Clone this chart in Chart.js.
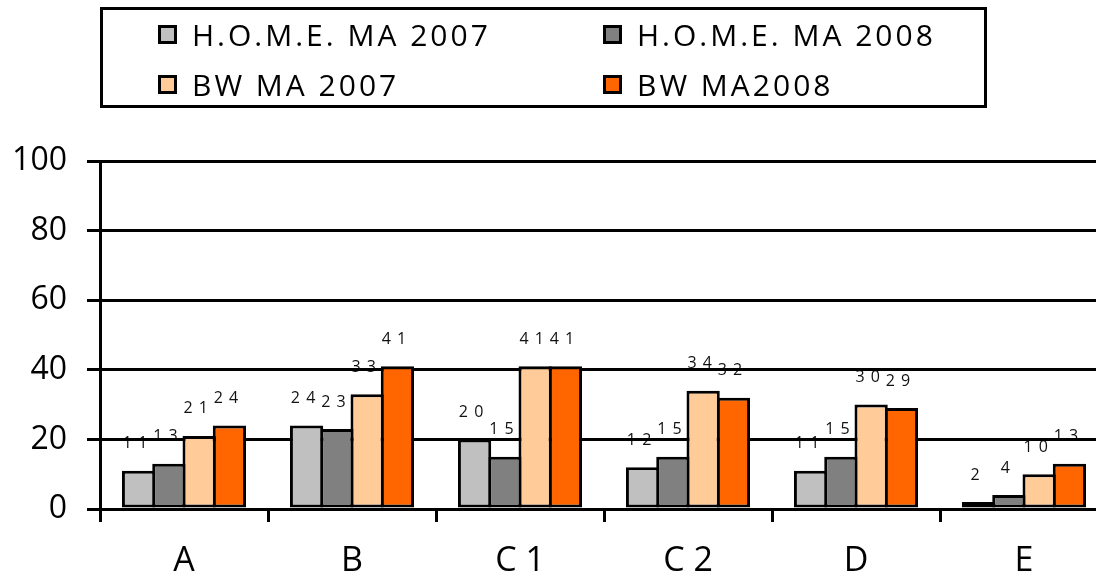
<!DOCTYPE html>
<html>
<head>
<meta charset="utf-8">
<script src="https://cdn.jsdelivr.net/npm/chart.js@4/dist/chart.umd.min.js"></script>
<style>
  html, body { margin: 0; padding: 0; background: #fff; overflow: hidden; }
  body { width: 1096px; height: 578px; position: relative; }
  #chart { position: absolute; left: 0; top: 0; }
  .legend {
    position: absolute; left: 100px; top: 7px; width: 887px; height: 101px;
    border: 3px solid #000; box-sizing: border-box;
  }
  .legend__item {
    position: absolute; height: 40px; display: flex; align-items: center;
    font-family: "Open Sans", sans-serif; font-size: 30px; letter-spacing: 3px;
    color: #000; white-space: nowrap;
  }
  .legend__box {
    width: 19px; height: 19px; border: 3px solid #000; box-sizing: border-box;
    margin-right: 15px; flex: none;
  }
</style>
</head>
<body>
<canvas id="chart" width="1108" height="578"></canvas>
<div class="legend"></div>
<script>
const categories = ["A", "B", "C1", "C2", "D", "E"];
const seriesNames = ["H.O.M.E. MA 2007", "H.O.M.E. MA 2008", "BW MA 2007", "BW MA2008"];
const home2007 = [11, 24, 20, 12, 11, 2];
const home2008 = [13, 23, 15, 15, 15, 4];
const bw2007 = [21, 33, 41, 34, 30, 10];
const bw2008 = [24, 41, 41, 32, 29, 13];
const yTicks = [0, 20, 40, 60, 80, 100];

const colors = ["#C0C0C0", "#808080", "#FFCC99", "#FF6600"];
const FONT = "'Open Sans', sans-serif";

// spaced digits like the original ("2 4")
const spaced = s => String(s).split("").join(" ");

const valueLabels = {
  id: "valueLabels",
  beforeDraw(chart) {
    const ctx = chart.ctx;
    ctx.save();
    ctx.font = "16px " + FONT;
    ctx.letterSpacing = "1px";
    ctx.fillStyle = "#111";
    ctx.textAlign = "center";
    ctx.textBaseline = "middle";
    chart.data.datasets.forEach((ds, i) => {
      chart.getDatasetMeta(i).data.forEach((bar, j) => {
        ctx.fillText(spaced(ds.data[j]), bar.x - 3, bar.y - 27);
      });
    });
    ctx.restore();
  }
};

const seriesData = [home2007, home2008, bw2007, bw2008];

const chart = new Chart(document.getElementById("chart"), {
  type: "bar",
  data: {
    labels: categories,
    datasets: seriesData.map((data, i) => ({
      label: seriesNames[i],
      data: data,
      backgroundColor: colors[i],
      borderColor: "#000",
      borderWidth: 3,
      borderSkipped: false,
      categoryPercentage: 0.721,
      barPercentage: 1.099
    }))
  },
  options: {
    responsive: false,
    animation: false,
    devicePixelRatio: 1,
    layout: { padding: { top: 161, left: 0, right: 0, bottom: 0 } },
    plugins: {
      legend: { display: false },
      tooltip: { enabled: false }
    },
    scales: {
      x: {
        afterFit(scale) { scale.height = 69; },
        grid: {
          offset: true,
          drawOnChartArea: false,
          drawTicks: true,
          tickLength: 13,
          color: "#000",
          lineWidth: 3
        },
        border: { display: true, color: "#000", width: 3 },
        ticks: {
          color: "#000",
          padding: 19,
          font: { family: FONT, size: 34 },
          callback(value) { return spaced(this.getLabelForValue(value)); }
        }
      },
      y: {
        min: 0,
        max: 100,
        afterFit(scale) { scale.width = 100; },
        afterBuildTicks(scale) { scale.ticks = yTicks.map(v => ({ value: v })); },
        grid: {
          color: "#000",
          lineWidth: 3,
          tickLength: 13,
          drawTicks: true
        },
        border: { display: true, color: "#000", width: 3 },
        ticks: {
          color: "#000",
          padding: 20,
          font: { family: FONT, size: 32 }
        }
      }
    }
  },
  plugins: [valueLabels]
});

// legend box built from the chart datasets, two per row
const legendEl = document.querySelector(".legend");
const colLeft = [55, 500];
const rowTop = [4, 54];
chart.data.datasets.forEach((ds, i) => {
  const item = document.createElement("div");
  item.className = "legend__item";
  item.style.left = colLeft[i % 2] + "px";
  item.style.top = rowTop[Math.floor(i / 2)] + "px";
  const box = document.createElement("span");
  box.className = "legend__box";
  box.style.background = ds.backgroundColor;
  const text = document.createElement("span");
  text.textContent = ds.label;
  item.appendChild(box);
  item.appendChild(text);
  legendEl.appendChild(item);
});
</script>
</body>
</html>
